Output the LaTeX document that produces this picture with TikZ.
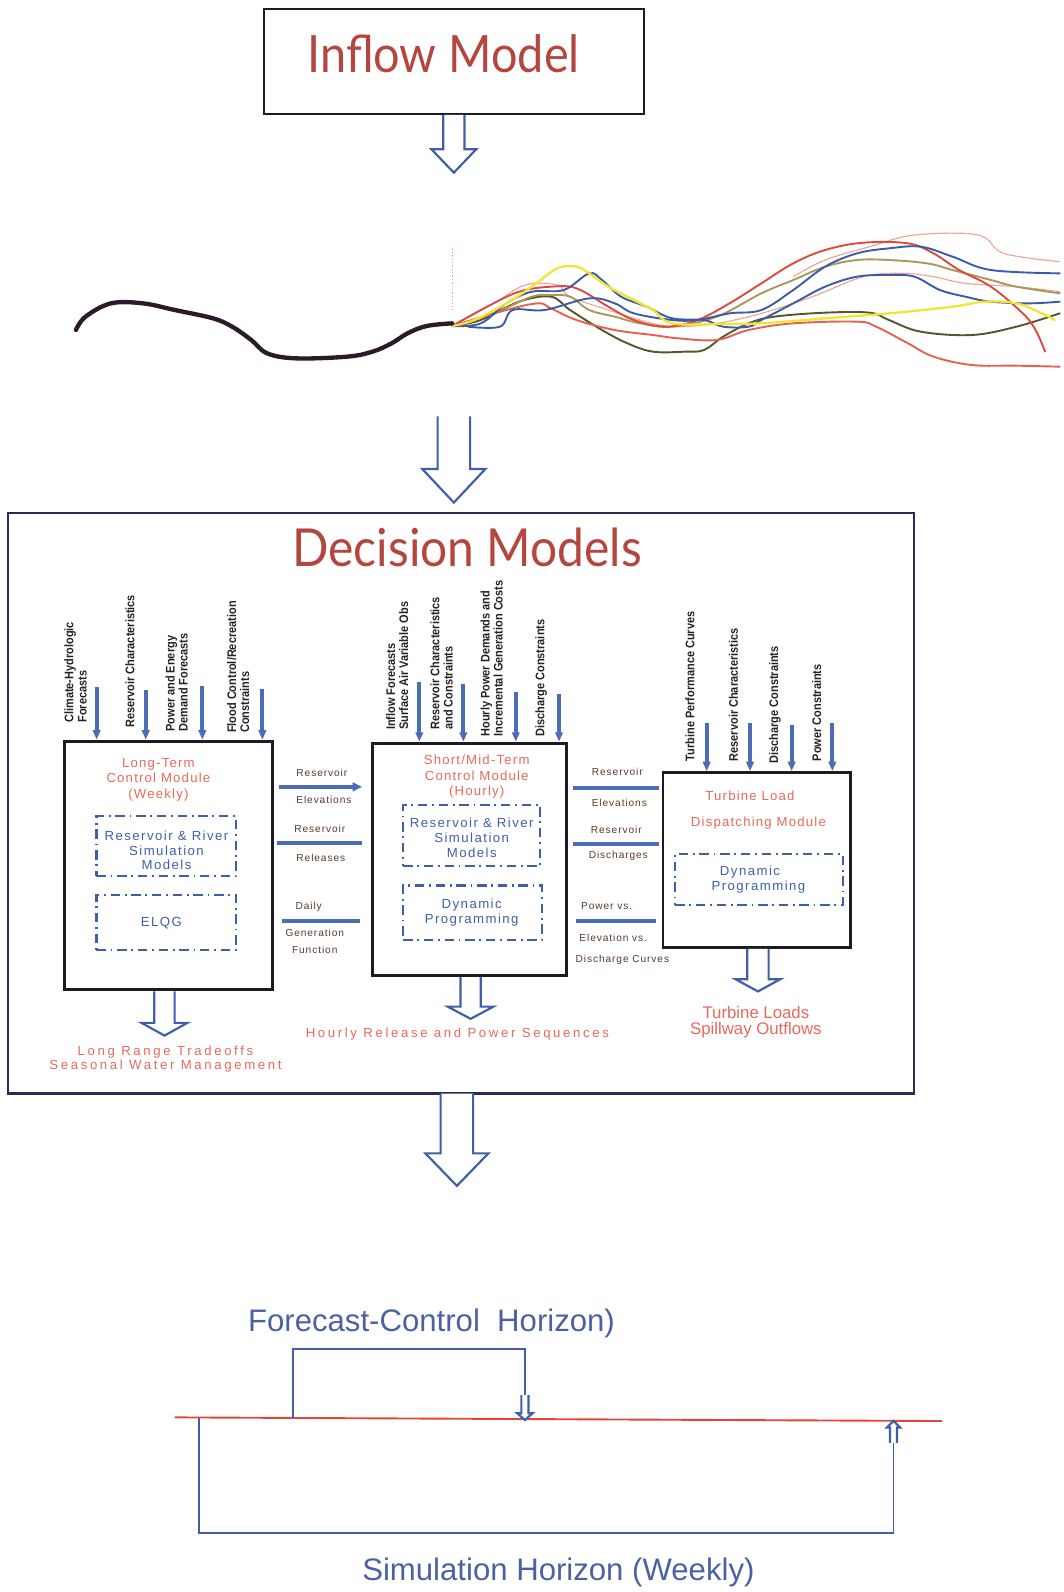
\documentclass[tikz,border=0pt]{standalone}
\usepackage{fontspec}
\usepackage{graphicx}
\setmainfont{Liberation Sans}
\newfontfamily\titlefont{Lato}
\newfontfamily\modfont[LetterSpace=9]{Liberation Sans}
\newfontfamily\blfont[LetterSpace=11]{Liberation Sans}
\newfontfamily\outfont[LetterSpace=20]{Liberation Sans}
\newfontfamily\conlfont[LetterSpace=9]{Liberation Sans}
\newfontfamily\rlabfont[FakeStretch=0.88]{Liberation Sans}
\usetikzlibrary{arrows.meta,fit}
\definecolor{brick}{HTML}{B4463E}
\definecolor{salmon}{HTML}{E8685A}
\definecolor{mblue}{HTML}{3F5FA8}
\definecolor{lblue}{HTML}{4A6DB5}
\definecolor{boxk}{HTML}{1E1A22}
\definecolor{navy}{HTML}{2C2A55}
\definecolor{labk}{HTML}{262222}
\definecolor{brn}{HTML}{5A3A2A}
\definecolor{tblue}{HTML}{4A62A5}
\definecolor{hred}{HTML}{E0473C}
\definecolor{chblack}{HTML}{2A1A2A}
\definecolor{cholive}{HTML}{55552E}
\definecolor{chred}{HTML}{E0483C}
\definecolor{chredb}{HTML}{E5604F}
\definecolor{chblue}{HTML}{3A5BA8}
\definecolor{chyellow}{HTML}{F2E530}
\definecolor{chkhaki}{HTML}{A8985A}
\definecolor{chlight}{HTML}{F0A090}
\begin{document}
\begin{tikzpicture}[x=0.75pt,y=-0.75pt,
  modbox/.style={draw=boxk,line width=2.2pt,inner sep=0pt},
  ddbox/.style={draw=mblue,line width=1.7pt,dash pattern=on 7pt off 3.5pt on 1.3pt off 3.5pt,inner sep=0pt},
  inarrow/.style={draw=lblue,line width=3pt,-{Triangle[length=7pt,width=5.5pt]}},
  conn/.style={draw=lblue,line width=3pt},
  harrow/.style={draw=mblue,line width=1.6pt,fill=white,line join=miter},
  hdtxt/.style={text=salmon,inner sep=0pt,align=center,font=\modfont\fontsize{9.75pt}{11.25pt}\selectfont},
  bltxt/.style={text=mblue,inner sep=0pt,align=center,font=\blfont\fontsize{9.75pt}{10.9pt}\selectfont},
  rlab/.style={text=labk,inner sep=0pt,rotate=90,anchor=west,align=left,font=\rlabfont\bfseries\fontsize{9.2pt}{9.7pt}\selectfont},
  clab/.style={text=brn,inner sep=0pt,font=\conlfont\fontsize{7.5pt}{8pt}\selectfont},
  outlab/.style={text=salmon,inner sep=0pt,align=center,font=\outfont\fontsize{9.75pt}{10.5pt}\selectfont},
  bigout/.style={text=salmon,inner sep=0pt,align=center,font=\fontsize{12.4pt}{12pt}\selectfont},
  btxt/.style={text=tblue,inner sep=0pt,font=\fontsize{23pt}{26pt}\selectfont},
  bline/.style={draw=mblue,line width=1.4pt},
  chl/.style={line width=1.4pt,line join=round,line cap=round},
  pics/hdown/.style args={#1/#2/#3/#4}{code={\draw[harrow] (-#1,0) -- (-#1,#3) -- (-#2,#3) -- (0,#4) -- (#2,#3) -- (#1,#3) -- (#1,0);}},
]
\useasboundingbox (0,0) rectangle (1047,1568);

% ---------- Inflow model ----------
\node[fit={(260,9) (634,112)},draw=boxk,line width=1.6pt,inner sep=0pt] (inflow) {};
\node[text=brick,inner sep=0pt] (inflowt) at (437,53) {\resizebox{201pt}{28pt}{\titlefont Inflow Model}};
\pic at (inflow.south) {hdown=10.5/22/34/57};

% ---------- Chart ----------
\begin{scope}[shift={(59.1,216.7)},x=0.471pt,y=-0.2462pt]
\draw[chlight,line width=0.6pt,dash pattern=on 1pt off 1.5pt] (615,85) -- (615,270);
\draw[chl,chlight,line width=0.9pt,dash pattern=on 2pt off 0.8pt] plot[smooth,tension=0.6] coordinates {(615,318) (680,250) (730,195) (780,195) (800,230) (860,270) (910,300) (960,320) (1030,310) (1100,280) (1180,230) (1260,170) (1320,160) (1370,170) (1420,190) (1500,200) (1568,215)};
\draw[chl,chlight,line width=0.9pt,dash pattern=on 2pt off 0.8pt] plot[smooth,tension=0.6] coordinates {(1150,170) (1200,120) (1270,80) (1340,45) (1440,45) (1480,100) (1568,125)};
\draw[chl,cholive] plot[smooth,tension=0.6] coordinates {(615,318) (660,300) (720,245) (770,230) (800,270) (850,330) (890,370) (930,395) (980,395) (1010,390) (1040,350) (1080,310) (1120,290) (1200,278) (1270,278) (1300,300) (1350,335) (1430,345) (1500,320) (1568,280)};
\draw[chl,chkhaki] plot[smooth,tension=0.6] coordinates {(615,318) (680,280) (740,230) (770,225) (800,230) (830,270) (870,290) (910,310) (960,320) (1030,290) (1100,220) (1150,180) (1200,140) (1250,120) (1300,120) (1360,130) (1400,150) (1460,180) (1500,200) (1568,220)};
\draw[chl,chredb] plot[smooth,tension=0.6] coordinates {(615,318) (700,270) (750,250) (770,265) (810,300) (870,330) (930,345) (970,355) (1030,360) (1080,330) (1150,310) (1250,305) (1280,320) (1330,370) (1370,410) (1430,435) (1500,437) (1568,440)};
\draw[chl,chred] plot[smooth,tension=0.6] coordinates {(615,318) (670,260) (720,215) (770,200) (810,205) (860,260) (900,300) (950,320) (1000,300) (1050,250) (1100,190) (1150,130) (1200,90) (1260,68) (1330,70) (1370,100) (1410,150) (1460,200) (1510,280) (1530,330) (1545,395)};
\draw[chl,chblue] plot[smooth,tension=0.6] coordinates {(615,318) (660,310) (700,250) (740,215) (790,210) (830,160) (850,180) (880,230) (920,260) (960,295) (1010,300) (1040,320) (1080,320) (1100,300) (1150,250) (1200,200) (1250,170) (1300,165) (1340,170) (1380,210) (1420,230) (1460,245) (1520,250) (1568,245)};
\draw[chl,chblue] plot[smooth,tension=0.6] coordinates {(640,320) (690,320) (710,270) (760,270) (830,235) (870,250) (900,280) (960,300) (1000,300) (1050,280) (1100,270) (1150,210) (1200,140) (1250,100) (1300,85) (1350,80) (1400,110) (1460,150) (1568,160)};
\draw[chl,chyellow,line width=1.7pt] plot[smooth,tension=0.6] coordinates {(615,318) (650,300) (700,250) (740,200) (780,145) (810,140) (830,160) (860,200) (900,240) (930,270) (960,310) (1040,312) (1100,310) (1200,295) (1300,280) (1400,260) (1450,245) (1500,250) (1540,280) (1560,300)};
\draw[chblack,line width=3.2pt,line cap=round,line join=round] plot[smooth,tension=0.6] coordinates {(25,330) (40,290) (80,250) (130,250) (180,270) (240,295) (270,320) (300,360) (325,400) (370,415) (450,410) (490,395) (520,370) (545,340) (575,318) (615,310)};
\end{scope}

\coordinate (a2) at (447,410);
\pic at (a2) {hdown=16/31/52/85};

% ---------- Decision models ----------
\node[fit={(8,505) (900,1077)},draw=navy,line width=1.6pt,inner sep=0pt] (dm) {};
\node[text=brick,inner sep=0pt] (dmt) at (460,539) {\resizebox{258pt}{28.5pt}{\titlefont Decision Models}};

\node[modbox,fit={(64,730) (268,975)}] (ltc) {};
\node[modbox,fit={(367,732) (558,961)}] (smc) {};
\node[modbox,fit={(653,761) (838,933)}] (tld) {};

\node[ddbox,fit={(95,804) (232.5,863)}] (rr1) {};
\node[ddbox,fit={(95,881.5) (232.5,935.7)}] (elqg) {};
\node[ddbox,fit={(397,793) (532,853)}] (rr2) {};
\node[ddbox,fit={(397,872) (533.5,926)}] (dp2) {};
\node[ddbox,fit={(665,841) (830,891)}] (dp3) {};

\node[hdtxt] (ltch) at (156,768) {Long-Term\\Control Module\\(Weekly)};
\node[bltxt] (rr1t) at (164,837.5) {Reservoir \& River\\Simulation\\Models};
\node[bltxt] (elqgt) at (159,909) {ELQG};
\node[hdtxt] (smch) at (469.5,765) {Short/Mid-Term\\Control Module\\(Hourly)};
\node[bltxt] (rr2t) at (464.6,825) {Reservoir \& River\\Simulation\\Models};
\node[bltxt] (dp2t) at (464.6,898.5) {Dynamic\\Programming};
\node[hdtxt] (tldh1) at (738.7,784) {Turbine Load};
\node[hdtxt] (tldh2) at (747,811) {Dispatching Module};
\node[bltxt] (dp3a) at (738.7,859) {Dynamic};
\node[bltxt] (dp3b) at (747,874) {Programming};

% input arrows
\foreach \x/\y [count=\i] in {95.2/677,143.5/679.6,199.3/675.7,258.4/679}{
  \coordinate (la\i) at (\x,\y);
  \draw[inarrow] (la\i) -- (la\i |- ltc.north);}
\foreach \x/\y [count=\i] in {413/671.4,456.4/673.7,508/681.3,550.6/683.6}{
  \coordinate (ma\i) at (\x,\y);
  \draw[inarrow] (ma\i) -- (ma\i |- smc.north);}
\foreach \x/\y [count=\i] in {696/712.4,738.7/711.8,779.7/714,819.8/712.4}{
  \coordinate (ta\i) at (\x,\y);
  \draw[inarrow] (ta\i) -- (ta\i |- tld.north);}

% rotated input labels
\node[rlab] (l1) at (74.4,712) {Climate-Hydrologic\\Forecasts};
\node[rlab] (l2) at (128,717) {Reservoir Characteristics};
\node[rlab] (l3) at (174,720.7) {Power and Energy\\Demand Forecasts};
\node[rlab] (l4) at (234.6,722) {Flood Control/Recreation\\Constraints};
\node[rlab] (m1) at (391.2,719) {Inflow Forecasts\\Surface Air Variable Obs};
\node[rlab] (m2) at (434.9,719) {Reservoir Characteristics\\and Constraints};
\node[rlab] (m3) at (484.2,725.6) {Hourly Power Demands and\\Incremental Generation Costs};
\node[rlab] (m4) at (533,725.6) {Discharge Constraints};
\node[rlab] (t1) at (679.6,750) {Turbine Performance Curves};
\node[rlab] (t2) at (722.3,750) {Reservoir Characteristics};
\node[rlab] (t3) at (763.3,752) {Discharge Constraints};
\node[rlab] (t4) at (804.4,750) {Power Constraints};

% connectors between modules
\coordinate (y1) at (0,775);
\coordinate (y2) at (0,830);
\coordinate (y3) at (0,907);
\coordinate (y4) at (0,776);
\coordinate (y5) at (0,831);
\coordinate (y6) at (0,907);
\draw[conn,-{Triangle[length=7pt,width=6.5pt]},shorten <=3.75pt,shorten >=6.75pt] (ltc.east |- y1) -- (smc.west |- y1);
\draw[conn,shorten <=2.25pt,shorten >=6.75pt] (ltc.east |- y2) -- (smc.west |- y2);
\draw[conn,shorten <=6pt,shorten >=8.25pt] (ltc.east |- y3) -- (smc.west |- y3);
\draw[conn,shorten <=3.75pt,shorten >=1.5pt] (smc.east |- y4) -- (tld.west |- y4);
\draw[conn,shorten <=3.75pt,shorten >=1.5pt] (smc.east |- y5) -- (tld.west |- y5);
\draw[conn,shorten <=6pt,shorten >=3.75pt] (smc.east |- y6) -- (tld.west |- y6);

\node[clab] (c1) at (317,761) {Reservoir};
\node[clab] (c2) at (319,788) {Elevations};
\node[clab] (c3) at (315,816.5) {Reservoir};
\node[clab] (c4) at (316,845) {Releases};
\node[clab] (c5) at (304,893) {Daily};
\node[clab] (c6) at (310,918.6) {Generation};
\node[clab] (c7) at (310,936) {Function};
\node[clab] (d1) at (608,760) {Reservoir};
\node[clab] (d2) at (610,791) {Elevations};
\node[clab] (d3) at (607,817.5) {Reservoir};
\node[clab] (d4) at (609,843) {Discharges};
\node[clab] (d5) at (597.5,892) {Power vs.};
\node[clab] (d6) at (604,923.6) {Elevation vs.};
\node[clab] (d7) at (613,945.5) {Discharge Curves};

% module outputs
\coordinate (o1) at (162,975);
\coordinate (o2) at (463.5,961);
\coordinate (o3) at (746.5,933);
\pic at (o1 |- ltc.south) {hdown=10/22.5/31/43.5};
\pic at (o2 |- smc.south) {hdown=10/22.5/29/41};
\pic at (o3 |- tld.south) {hdown=10.5/22/30/42};
\node[outlab] (out1) at (163,1043) {Long Range Tradeoffs\\Seasonal Water Management};
\node[outlab] (out2) at (450.5,1018) {Hourly Release and Power Sequences};
\node[bigout] (out3) at (744.5,1007) {Turbine Loads\\Spillway Outflows};

\coordinate (a3) at (450,1077);
\pic at (a3) {hdown=16/31/59/91};

% ---------- Horizons ----------
\coordinate (rl1) at (172,1396);
\coordinate (rl2) at (928,1399.6);
\draw[hred,line width=1.4pt] (rl1) -- (rl2);
\coordinate (f1) at (289,1396.4);
\coordinate (f2) at (517,1329);
\coordinate (f3) at (517,1374);
\draw[bline] (f1) -- (f1 |- f2) -- (f2) -- (f3);
\pic at (f3) {hdown=3.5/7.5/18/24.6};
\coordinate (s1) at (196,1396.5);
\coordinate (s2) at (880,1510);
\coordinate (s3) at (880,1421);
\draw[bline] (s1) -- (s1 |- s2) -- (s2) -- (s3);
\pic at (s3) {hdown=3.5/6.5/-15/-21.5};
\node[btxt] (fch) at (425,1303) {Forecast-Control\ \ Horizon)};
\node[btxt] (shw) at (550,1549) {Simulation Horizon (Weekly)};
\end{tikzpicture}
\end{document}
